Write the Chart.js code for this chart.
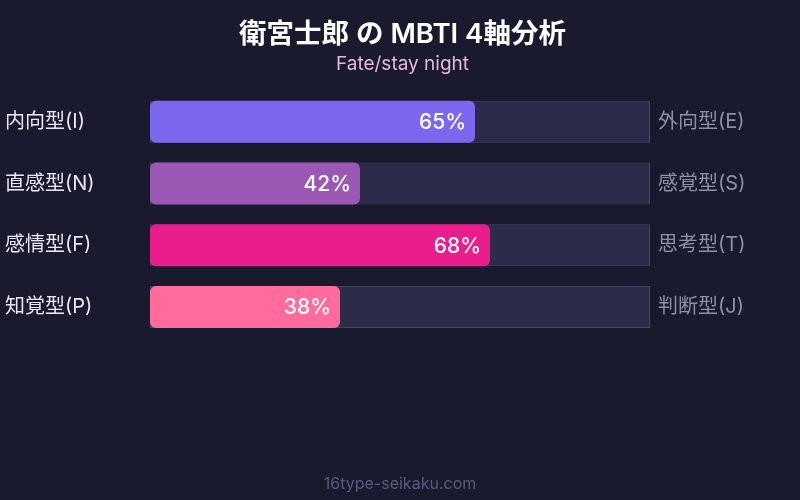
<!DOCTYPE html>
<html>
<head>
<meta charset="utf-8">
<script src="https://cdn.jsdelivr.net/npm/chart.js@4"></script>
<style>
  html, body { margin: 0; padding: 0; background: #1a1a2e; }
  #wrap { width: 800px; height: 500px; }
</style>
</head>
<body>
<div id="wrap"><canvas id="mbtiChart"></canvas></div>
<script>
const leftLabels = ["内向型(I)", "直感型(N)", "感情型(F)", "知覚型(P)"];
const rightLabels = ["外向型(E)", "感覚型(S)", "思考型(T)", "判断型(J)"];
const values = [65, 42, 68, 38];
const trackValues = [100, 100, 100, 100];
const barColors = ["#7b68ee", "#9b59b6", "#e91e8c", "#ff6b9d"];

const FONT = "Inter, 'Noto Sans CJK JP', sans-serif";

const valueLabels = {
  id: "valueLabels",
  afterDatasetsDraw(chart) {
    const ctx = chart.ctx;
    const meta = chart.getDatasetMeta(0);
    ctx.save();
    ctx.fillStyle = "#ffffff";
    ctx.font = "500 21px " + FONT;
    ctx.textAlign = "right";
    ctx.textBaseline = "middle";
    meta.data.forEach((bar, i) => {
      ctx.fillText(values[i] + "%", bar.x - 9, bar.y + 1);
    });
    ctx.restore();
  },
  afterDraw(chart) {
    const ctx = chart.ctx;
    ctx.save();
    ctx.fillStyle = "#5a5a7c";
    ctx.font = "16px " + FONT;
    ctx.textAlign = "center";
    ctx.textBaseline = "middle";
    ctx.fillText("16type-seikaku.com", chart.width / 2, 484);
    ctx.restore();
  }
};

const ctx = document.getElementById("mbtiChart").getContext("2d");

const mbtiChart = new Chart(ctx, {
  type: "bar",
  data: {
    labels: leftLabels,
    datasets: [
      {
        data: values,
        backgroundColor: barColors,
        borderRadius: 6,
        borderSkipped: false,
        barPercentage: 0.68,
        categoryPercentage: 1,
        grouped: false,
        order: 0,
      },
      {
        data: trackValues,
        backgroundColor: "#2c2b4a",
        borderColor: "#45456a",
        borderWidth: 1,
        borderSkipped: false,
        barPercentage: 0.68,
        categoryPercentage: 1,
        grouped: false,
        order: 1,
      },
    ],
  },
  plugins: [valueLabels],
  options: {
    indexAxis: "y",
    responsive: true,
    maintainAspectRatio: false,
    animation: false,
    layout: { padding: { left: 5, right: 0, top: 0, bottom: 162 } },
    plugins: {
      legend: { display: false },
      tooltip: { enabled: false },
      title: {
        display: true,
        text: "衛宮士郎 の MBTI 4軸分析",
        color: "#ffffff",
        font: { family: FONT, size: 27.5, weight: "600" },
        padding: { top: 18, bottom: 2 },
      },
      subtitle: {
        display: true,
        text: "Fate/stay night",
        color: "#e6b8dc",
        font: { family: FONT, size: 19 },
        padding: { top: 0, bottom: 15 },
      },
    },
    scales: {
      x: {
        display: false,
        min: 0,
        max: 100,
      },
      y: {
        position: "left",
        grid: { display: false, drawTicks: false },
        border: { display: false },
        ticks: {
          color: "#e8e8f2",
          font: { family: FONT, size: 20 },
          crossAlign: "far",
        },
        afterFit(scale) { scale.width = 145; },
      },
      y2: {
        type: "category",
        position: "right",
        labels: rightLabels,
        grid: { display: false, drawTicks: false },
        border: { display: false },
        ticks: {
          color: "#8e8ea6",
          font: { family: FONT, size: 20 },
          padding: 8,
        },
        afterFit(scale) { scale.width = 150; },
      },
    },
  },
});
</script>
</body>
</html>
